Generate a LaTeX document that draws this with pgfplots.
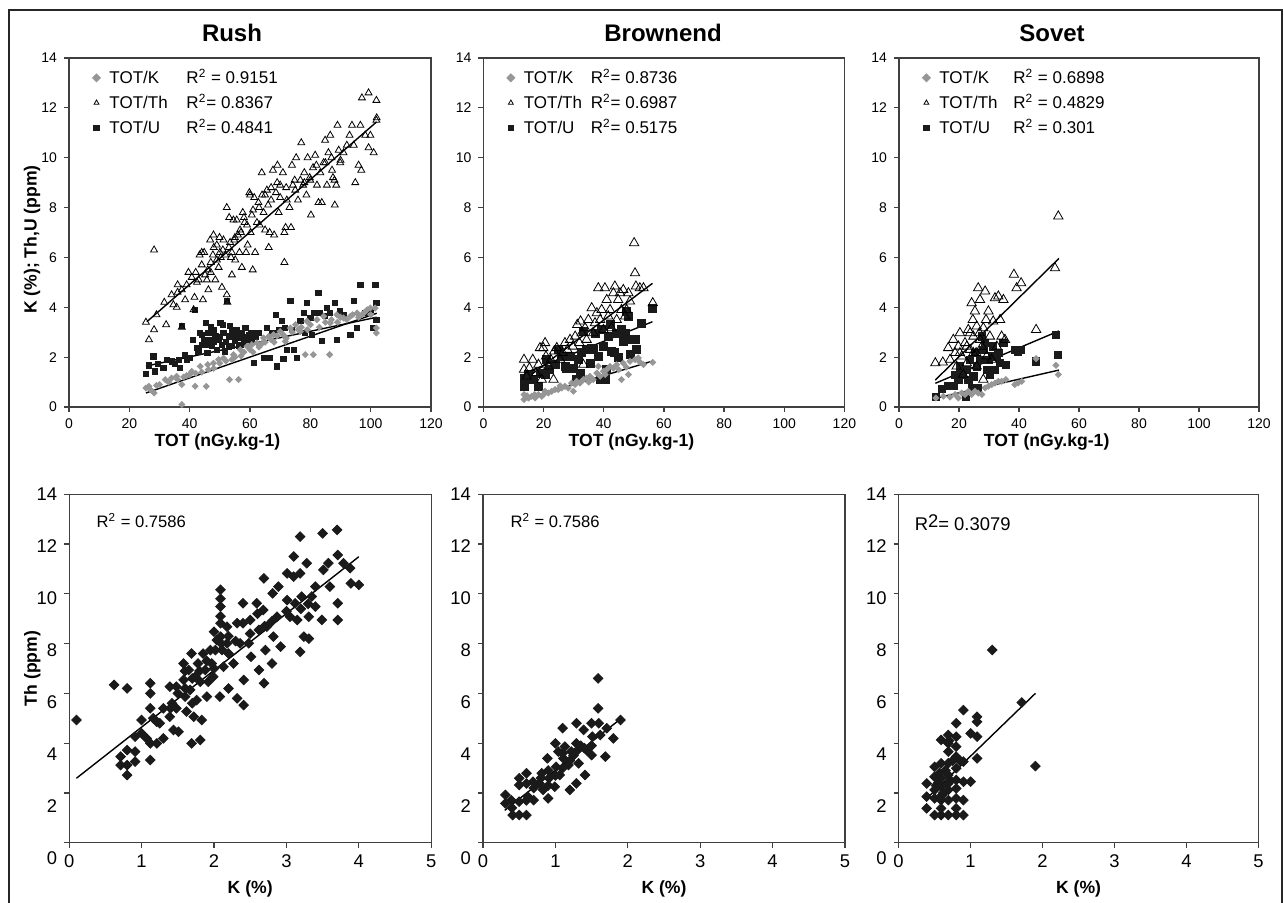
\documentclass[border=0pt]{standalone}
\usepackage{pgfplots}
\pgfplotsset{compat=1.18}
\usepackage{fontspec}
\setmainfont{Liberation Sans}
\definecolor{kgray}{RGB}{150,150,150}
\definecolor{pt}{RGB}{26,26,26}

\pgfplotsset{
  base/.style={
    scale only axis, anchor=south west,
    tick align=outside, xtick pos=bottom, ytick pos=left,
    axis line style={black!75, line width=0.6pt},
    major tick length=2.5pt, tick style={black!75, line width=0.6pt},
    /pgf/number format/assume math mode=true,
    ymin=0, ymax=14, ytick={0,2,...,14},
    label style={font=\fontsize{8.8}{10}\selectfont\bfseries},
  },
  toprow/.style={base, width=181pt, height=174.5pt,
    xmin=0, xmax=120, xtick={0,20,...,120},
    tick label style={font=\fontsize{7}{8}\selectfont},
    xlabel={TOT (nGy.kg-1)},
    xlabel style={at={(axis description cs:0.41,0)}, anchor=center, yshift=-17.5pt},
    legend style={draw=none, fill=none, font=\fontsize{8.5}{10}\selectfont,
      at={(0.064,0.98)}, anchor=north west, row sep=0pt, inner sep=0pt},
    legend cell align=left, reverse legend,
    legend image code/.code={\draw[##1, mark size=1.4pt] plot coordinates {(0.1cm,0cm)};},
  },
  botrow/.style={base, width=181pt, height=174.2pt,
    xmin=0, xmax=5, xtick={0,...,5},
    tick label style={font=\fontsize{9.2}{10}\selectfont},
    yticklabel={\pgfmathsetlengthmacro\myshift{-(14-\tick)*0.54pt-3.2pt}\raisebox{\myshift}[0pt][0pt]{\pgfmathprintnumber{\tick}}},
    xlabel={K (\%)},
    xlabel style={at={(axis description cs:0.5,0)}, anchor=center, yshift=-23pt},
  },
  kser/.style={only marks, color=kgray, mark=square*, mark size=1.05pt, mark options={rotate=45, fill=kgray, draw=kgray}},
  thser/.style={only marks, color=black, mark=triangle, mark size=2pt, mark options={line width=0.4pt}},
  user/.style={only marks, color=pt, mark=square*, mark size=1.3pt},
  bser/.style={only marks, color=pt, mark=square*, mark size=1.7pt, mark options={rotate=45}},
  trend/.style={black, line width=0.7pt, no marks, forget plot},
}
\newcommand{\legtxt}[3]{\hspace*{2.5pt}\makebox[#1][l]{#2}#3}

\begin{document}
\begin{tikzpicture}
\path[use as bounding box] (0,0) rectangle (642pt,451.5pt);
\draw[black!85, line width=0.75pt] (4.5pt,-2pt) -- (4.5pt,446.5pt) -- (641pt,446.5pt) -- (641pt,-2pt);

\node[font=\fontsize{12}{13}\selectfont\bfseries] at (116pt,435pt) {Rush};
\node[font=\fontsize{12}{13}\selectfont\bfseries] at (331.5pt,435pt) {Brownend};
\node[font=\fontsize{12}{13}\selectfont\bfseries] at (526pt,435pt) {Sovet};

% ---------------- Rush, top
\begin{axis}[toprow, at={(34.5pt,248pt)}, ylabel={K (\%); Th,U (ppm)},
  ylabel style={at={(axis description cs:-0.102,0.48)}, anchor=center}]
\addplot[user] coordinates {
(25.4,1.34)(26.5,1.67)(28,2.03)(28.5,1.43)(29.6,1.73)(31.3,1.56)(32.4,1.9)(34,1.83)(35.2,1.73)(36.3,1.9)
(36.8,1.56)(37.4,3.24)(38.5,2.1)(39,1.9)(40.2,1.97)(41.1,2.7)(41.8,3.9)(42.4,2.37)(42.9,2.23)(43.5,2.97)
(44,2.5)(44.8,2.7)(45.5,3.37)(45.9,2.17)(46.2,2.97)(46.8,2.7)(47.3,2.44)(47.9,3.1)(48.5,2.83)(49,2.3)
(49.6,2.7)(50.2,3.37)(50.7,2.5)(51.2,2.97)(51.8,2.23)(52.3,4.24)(52.9,2.83)(53.4,3.24)(54,2.44)(54.5,2.83)
(55.1,2.64)(55.6,3.1)(56.2,2.44)(56.8,2.77)(57.3,2.97)(57.9,2.57)(58.5,3.17)(59,2.7)(59.6,2.9)(60.2,2.97)
(60.7,2.64)(61.3,1.76)(61.8,2.83)(62.4,2.97)(62.9,2.97)(64.6,1.97)(65.7,3.17)(66.6,1.97)(67.4,2.97)(68.5,3.7)
(69,1.63)(69.6,3.1)(70.7,3.44)(71.1,1.93)(71.7,3.17)(72.2,2.3)(73.4,4.24)(73.9,3.1)(74.5,2.3)(75.5,1.97)
(76.7,3.44)(77.8,3.77)(78.3,2.97)(78.9,4.17)(80,3.57)(80.5,2.9)(81.1,3.77)(82.7,4.57)(83.3,3.77)(83.8,2.64)
(84.9,3.64)(85.5,3.97)(86.6,3.77)(88.2,4.17)(88.8,2.7)(89.9,3.84)(91,3.7)(93.3,2.9)(94.4,4.24)(95.5,3.17)
(96.6,4.9)(98.2,3.77)(99.9,3.9)(100.8,3.17)(101.6,4.9)(101.9,4.17)(101.9,3.5)
(44,2.9)(46,2.5)(48,2.6)(50,2.8)(52,2.6)(54,3.1)(56,2.9)(58,2.8)(47,3.2)(51,3.3)(53,2.4)(57,2.5)
};
\addlegendentry{\legtxt{38.5pt}{TOT/U}{R\textsuperscript{2}= 0.4841}}
\addplot[thser] coordinates {
(25.5,3.4)(26.5,2.7)(28.2,3.1)(28.2,6.3)(29,3.7)(31.6,4.2)(32.2,3.3)(34.6,4.1)(35.7,4.0)(36,4.9)
(37.4,4.7)(37.4,3.2)(38.5,4.3)(39.6,5.4)(40.7,5.2)(41.3,3.9)(41.6,4.4)(42.4,5.0)(43.3,6.1)(44,5.7)
(44.4,4.3)(44.8,6.2)(45.1,5.3)(45.7,5.1)(46.2,4.7)(46.8,6.7)(47,5.8)(47.7,6.1)(47.9,6.9)(48.5,5.1)
(49,6.5)(49.6,5.6)(49.9,6.8)(50.3,6.0)(50.7,4.8)(51.2,6.7)(51.8,6.1)(52.3,8.0)(52.3,4.5)(52.5,4.2)
(53.1,7.6)(53.4,6.6)(53.7,6.0)(54,5.3)(54.5,7.5)(54.8,6.7)(55.1,5.9)(55.6,7.5)(56.5,6.2)(56.7,7.1)
(57.3,5.6)(57.6,7.8)(58.2,7.4)(58.7,6.2)(59.2,6.5)(59.8,8.6)(60.2,7.0)(60.6,7.7)(60.9,5.5)(61.4,8.4)
(61.7,6.2)(62.3,7.4)(62.8,8.2)(63.2,7.3)(63.9,9.4)(64.5,7.8)(65,7.1)(65.6,8.7)(66.2,6.4)(66.5,7.0)
(67,8.3)(67.6,9.5)(68,6.9)(68.6,8.6)(69.1,9.7)(69.5,7.8)(70,8.9)(70.9,9.4)(71.4,7.0)(71.4,5.8)
(71.8,7.2)(72.2,8.3)(73.1,8.0)(73.6,7.2)(73.9,9.7)(74.2,8.9)(74.8,9.1)(75.3,10.0)(75.9,8.3)(76.7,9.1)
(77,10.6)(77.6,8.9)(78,9.4)(78.7,8.5)(79.1,10.0)(79.8,9.2)(80.2,7.7)(80.9,9.6)(81.6,10.1)(82.2,8.9)
(82.7,8.2)(83.3,9.4)(83.8,8.2)(84.4,9.8)(84.9,10.7)(85.5,8.9)(86,10.2)(86.6,10.9)(87.2,9.5)(87.5,9.2)
(88.1,8.1)(88.6,8.9)(89,11.3)(89.4,10.3)(89.9,9.8)(91,10.2)(92.1,10.5)(93,10.9)(93.8,11.3)(94.4,10.5)
(94.9,9.0)(96,9.7)(96.6,11.3)(96.9,9.5)(97.1,12.4)(98.2,10.9)(99.3,12.6)(99.3,10.4)(99.9,10.9)(101,10.2)
(101.9,12.3)(101.9,11.5)(102,11.6)
(42,5.4)(44,6.2)(47,5.4)(49,5.9)(51,6.3)(53,6.4)(55,6.8)(57,7.0)(59,7.3)(60,8.5)(63,8.0)(65,8.5)
(67,8.8)(69,9.0)(72,8.8)(75,8.7)(78,9.0)(80,9.1)(82,9.7)(85,9.8)(87,10.0)(88,9.1)(90,9.9)(70,8.4)
(66,8.1)(64,8.5)(61,7.9)(58,7.6)(56,6.9)(54,6.2)(50,6.2)(48,6.4)(46,5.5)(43,5.1)(39,4.9)(36,4.6)(34,4.5)
};
\addlegendentry{\legtxt{38.5pt}{TOT/Th}{R\textsuperscript{2}= 0.8367}}
\addplot[kser] coordinates {
(25.5,0.76)(26.5,0.83)(28.2,0.56)(29,0.87)(31.9,1.1)(34,1.16)(35.7,1.23)(37.4,0.9)(37.4,0.1)(39,1.26)
(40.7,1.43)(41.8,0.83)(43.5,1.63)(45.5,0.83)(46.2,1.5)(47.9,1.76)(49.6,1.9)(51.2,1.96)(53.2,1.1)(54.5,2.1)
(56.2,1.1)(56.8,2.3)(59,2.43)(60.6,2.5)(62.3,2.57)(64.5,2.77)(66.2,2.83)(67.8,2.9)(70,3.03)(71.7,2.63)
(73.4,3.17)(75.1,3.3)(76.7,3.03)(78.3,2.1)(78.9,3.44)(81,2.1)(82.2,3.5)(84.4,3.64)(86.4,2.1)(86.6,3.37)
(88.8,3.7)(91,3.57)(93.3,3.64)(95.5,3.77)(97.1,3.7)(98.8,3.9)(99.9,3.97)(101.9,3.17)(101.9,2.97)(101.5,3.97)
(44,1.4)(46,1.7)(48,1.55)(50,1.75)(52,1.85)(54,1.9)(55,2.0)(57,2.05)(58,2.2)(60,2.3)(61,2.2)(63,2.4)
(64,2.55)(65,2.6)(67,2.7)(68,2.6)(69,2.85)(71,2.9)(72,2.75)(74,3.0)(76,3.1)(77,3.2)(79,3.1)(80,3.3)
(83,3.2)(85,3.4)(87,3.5)(89,3.4)(90,3.6)(92,3.5)(94,3.7)(96,3.6)(98,3.8)(100,3.7)(33,1.0)(36,1.1)
(38,1.2)(40,1.3)(42,1.35)(30,0.9)(27,0.7)
};
\addlegendentry{\legtxt{38.5pt}{TOT/K}{R\textsuperscript{2} = 0.9151}}
\addplot[trend] coordinates {(25.8,3.42) (102,11.44)};
\addplot[trend] coordinates {(25.5,1.64) (102,3.6)};
\addplot[trend] coordinates {(25.5,0.56) (102,3.76)};
\end{axis}

% ---------------- Brownend, top
\begin{axis}[toprow, at={(241.7pt,248pt)}, width=180.5pt,
  thser/.append style={mark size=2.7pt}, user/.append style={mark size=2pt}]
\addplot[user] coordinates {
(13.5,0.83)(13.5,1.16)(15,1.3)(16.6,1.1)(18.3,0.83)(18.8,1.36)(20.5,1.3)(20.8,1.9)(22.1,1.5)(23.8,1.7)
(24.9,2.3)(26,2.03)(27.1,1.63)(27.7,1.56)(28.8,2.03)(29.9,1.56)(31,1.1)(31.6,1.9)(32.1,1.36)(32.7,2.17)
(33.2,3.04)(34.3,2.3)(35.4,1.76)(36,2.37)(36.5,2.3)(37.1,2.97)(38.2,2.03)(38.8,1.1)(39.3,3.1)(39.9,2.43)
(40.4,1.1)(41,1.5)(41.5,2.83)(42.1,3.3)(42.6,2.23)(43.7,2.17)(44.3,2.97)(44.8,1.97)(45.9,3.1)(46.5,2.63)
(47.1,2.97)(47.6,3.84)(48.2,3.64)(48.7,2.1)(49.3,2.7)(50.4,2.7)(50.9,2.3)(52.6,3.37)(56.3,3.97)
};
\addlegendentry{\legtxt{33.5pt}{TOT/U}{R\textsuperscript{2}= 0.5175}}
\addplot[thser] coordinates {
(13.5,1.9)(13.5,1.5)(14.4,1.23)(15.3,1.56)(16.4,1.9)(17.5,1.36)(18.3,1.7)(18.8,2.37)(19.4,1.1)(19.9,2.37)
(20.5,2.57)(20.8,2.03)(21.6,1.63)(22.4,1.9)(23.3,1.1)(23.5,2.23)(24.4,2.37)(25.5,1.9)(26.4,2.17)(27.1,2.57)
(27.9,2.3)(28.8,2.7)(29.7,2.43)(30.5,2.83)(31.2,3.3)(31.9,2.57)(32.3,3.44)(32.7,2.97)(33.2,1.7)(33.8,3.17)
(34.3,2.7)(34.9,3.5)(36,3.97)(36.5,2.97)(37.1,3.37)(37.7,3.77)(38.2,4.77)(38.8,3.5)(39.3,3.9)(39.9,3.1)
(40.4,4.77)(41,4.3)(41.5,3.64)(42.1,3.9)(42.6,3.17)(43.2,4.57)(43.7,4.84)(44.3,3.5)(44.8,4.3)(45.4,4.57)
(45.9,3.9)(46.5,4.7)(47.1,3.64)(47.6,3.9)(48.2,4.57)(48.7,4.24)(50.1,6.58)(50.4,5.37)(50.7,4.84)(52,4.77)
(53.2,4.77)(56.3,4.17)
};
\addlegendentry{\legtxt{33.5pt}{TOT/Th}{R\textsuperscript{2}= 0.6987}}
\addplot[kser] coordinates {
(13.5,0.3)(13.5,0.5)(15,0.36)(16,0.43)(17.2,0.36)(18.3,0.5)(19.4,0.43)(20.5,0.63)(21.6,0.56)(22.7,0.63)
(23.8,0.7)(24.9,0.7)(26,0.76)(27.1,0.83)(28.2,0.76)(29.3,0.96)(29.9,0.63)(31,1.03)(32.1,0.96)(33.2,1.1)
(34.3,1.16)(35.4,1.23)(36.5,1.1)(37.7,1.36)(38.2,1.63)(38.8,1.23)(39.9,1.43)(41,1.5)(42.1,1.63)(43.2,1.56)
(44.3,1.7)(45.9,1.1)(46.5,1.76)(48.2,1.3)(48.7,1.83)(50.4,1.9)(51.5,1.97)(53.2,1.7)(56.3,1.79)
(14.5,0.45)(17,0.5)(20,0.5)(25.5,0.85)(30.5,0.9)(35,1.0)(40.5,1.3)(45,1.5)(47.5,1.6)(52,1.8)
};
\addlegendentry{\legtxt{33.5pt}{TOT/K}{R\textsuperscript{2}= 0.8736}}
\addplot[trend] coordinates {(13.5,1.08) (56.2,4.96)};
\addplot[trend] coordinates {(13.5,1.35) (56.2,3.42)};
\addplot[trend] coordinates {(13.5,0.31) (56.2,1.84)};
\end{axis}

% ---------------- Sovet, top
\begin{axis}[toprow, at={(449.5pt,248pt)}, width=180pt,
  thser/.append style={mark size=2.7pt}, user/.append style={mark size=1.8pt}]
\addplot[user] coordinates {
(12.3,0.4)(14.2,0.74)(16.4,0.83)(18.1,0.83)(18.7,1.3)(19.8,1.1)(20.3,1.63)(21.4,1.3)(22.3,0.4)(22.6,1.5)
(23.1,1.1)(23.7,1.9)(24.2,0.76)(24.8,1.23)(25.3,2.17)(25.9,1.63)(26.4,0.76)(27,1.9)(27.6,2.83)(28.1,2.3)
(28.7,2.57)(29.2,1.5)(29.8,1.9)(30.3,1.3)(30.9,2.03)(31.4,2.43)(32,1.5)(32.6,2.03)(33.1,2.17)(33.7,1.76)
(34.8,2.57)(35.6,1.7)(38.6,2.3)(39.7,2.23)(40.7,2.3)(45.7,1.83)(52.3,2.9)(52.9,2.1)
};
\addlegendentry{\legtxt{37pt}{TOT/U}{R\textsuperscript{2} = 0.301}}
\addplot[thser] coordinates {
(12.1,1.76)(14.6,1.79)(16.4,2.37)(17,1.9)(18.1,2.7)(18.7,2.17)(19.2,1.63)(19.8,2.43)(20.3,2.97)(20.9,2.03)
(21.4,1.3)(22,2.57)(22.6,1.76)(23.1,3.1)(23.7,2.3)(24.2,4.17)(24.6,3.5)(24.8,2.83)(25.3,3.84)(25.7,2.17)
(25.9,1.63)(26.4,4.77)(26.8,2.97)(27,4.3)(27.6,2.43)(28.1,1.1)(28.7,4.64)(29,3.5)(29.2,2.03)(29.8,3.84)
(30.3,2.83)(30.9,1.9)(31.4,3.44)(32,4.37)(32.6,2.43)(33.1,4.44)(33.7,3.5)(34.2,2.83)(34.8,4.3)(35.3,2.7)
(38.3,5.31)(39.2,4.77)(40.7,4.97)(45.7,3.1)(52,5.57)(53.1,7.65)
(20.3,2.17)(22.6,2.43)(24.8,2.17)(27,2.7)(25.9,3.24)(28.1,3.17)(23.7,2.97)
};
\addlegendentry{\legtxt{37pt}{TOT/Th}{R\textsuperscript{2} = 0.4829}}
\addplot[kser] coordinates {
(12.3,0.36)(14.8,0.43)(17,0.4)(18.7,0.5)(19.8,0.36)(20.9,0.56)(22,0.5)(23.1,0.63)(24.2,0.5)(25.3,0.63)
(26.4,0.56)(27.6,0.5)(28.7,0.76)(29.8,0.83)(30.9,0.9)(32,0.96)(33.1,1.03)(34.2,1.03)(35.6,1.1)(38.6,0.9)
(39.7,0.96)(40.9,1.03)(45.7,1.94)(52.3,1.67)(53.1,1.3)
};
\addlegendentry{\legtxt{37pt}{TOT/K}{R\textsuperscript{2} = 0.6898}}
\addplot[trend] coordinates {(12.1,1.08) (53.3,5.96)};
\addplot[trend] coordinates {(12.1,0.95) (53.3,3.05)};
\addplot[trend] coordinates {(12.1,0.35) (53.3,1.48)};
\end{axis}

% ---------------- Rush, bottom
\begin{axis}[botrow, at={(34.6pt,30.15pt)}, ylabel={Th (ppm)},
  ylabel style={at={(axis description cs:-0.102,0.5)}, anchor=center}]
\addplot[bser] coordinates {
(0.1,4.93)(0.62,6.34)(0.8,6.2)(0.71,3.46)(0.71,3.12)(0.8,3.72)(0.8,3.12)(0.8,2.72)(0.91,3.66)(0.91,3.26)
(1.0,4.93)(0.91,4.26)(1.0,4.39)(1.07,4.19)(1.12,6.41)(1.12,6.0)(1.12,5.4)(1.12,3.32)(1.12,3.99)(1.16,5.0)
(1.21,4.86)(1.21,3.99)(1.25,4.8)(1.3,4.19)(1.3,5.4)(1.39,6.27)(1.39,5.06)(1.42,5.6)(1.44,4.53)(1.48,6.27)
(1.48,5.4)(1.51,4.46)(1.58,7.2)(1.58,6.54)(1.6,5.87)(1.62,5.27)(1.65,6.94)(1.67,6.14)(1.69,7.6)(1.69,3.99)
(1.72,5.06)(1.74,6.67)(1.76,5.73)(1.78,7.2)(1.81,6.47)(1.81,4.13)(1.83,4.93)(1.85,7.6)(1.88,6.94)(1.9,5.87)
(1.92,6.47)(1.95,7.74)(1.97,7.2)(1.99,6.67)(2.0,8.48)(2.02,7.74)(2.04,8.14)(2.08,5.87)(2.09,10.16)(2.09,9.49)
(2.09,8.82)(2.09,8.28)(2.11,7.74)(2.13,7.07)(2.18,8.68)(2.18,8.01)(2.2,7.6)(2.2,6.2)(2.27,7.2)(2.32,8.82)
(2.32,5.8)(2.36,8.01)(2.4,9.62)(2.4,8.82)(2.41,6.54)(2.41,5.53)(2.48,8.01)(2.5,8.95)(2.51,7.47)(2.59,9.62)
(2.62,8.55)(2.62,6.94)(2.68,9.35)(2.69,10.62)(2.69,6.41)(2.71,7.74)(2.73,8.68)(2.8,7.2)(2.81,10.02)(2.82,8.28)
(2.87,9.08)(2.89,10.29)(2.92,7.88)(3.01,9.75)(3.01,10.82)(3.05,9.08)(3.1,11.5)(3.1,10.69)(3.12,9.62)(3.15,8.95)
(3.19,10.82)(3.19,12.3)(3.19,7.67)(3.21,9.89)(3.24,8.28)(3.28,11.23)(3.31,9.08)(3.31,8.2)(3.35,9.89)(3.4,9.49)
(3.4,10.29)(3.49,8.95)(3.5,12.43)(3.51,10.96)(3.58,11.23)(3.6,10.29)(3.7,12.57)(3.71,11.56)(3.71,9.62)(3.71,8.95)
(3.79,11.23)(3.88,11.03)(3.89,10.42)(4.0,10.36)
(1.6,6.2)(1.7,6.6)(1.8,6.9)(1.9,7.3)(2.0,7.0)(2.1,8.0)(2.2,8.3)(2.5,8.4)(2.6,9.2)(2.8,8.9)(3.0,9.3)
(3.2,9.4)(3.3,9.6)(2.7,8.7)(1.5,6.0)(1.4,5.4)(2.3,8.1)(2.09,9.8)(2.09,9.1)(1.7,5.6)(1.6,6.9)
};
\addplot[trend] coordinates {(0.1,2.59) (4.0,11.49)};
\node[anchor=west, inner sep=0pt, font=\fontsize{8.3}{10}\selectfont] at (rel axis cs:0.075,0.924) {R\textsuperscript{2} = 0.7586};
\end{axis}

% ---------------- Brownend, bottom
\begin{axis}[botrow, at={(241.5pt,30.15pt)}]
\addplot[bser] coordinates {
(0.31,1.92)(0.31,1.58)(0.39,1.71)(0.41,1.11)(0.5,2.59)(0.5,2.32)(0.5,1.65)(0.5,1.11)(0.6,2.79)(0.6,2.38)
(0.6,1.11)(0.62,1.85)(0.69,2.45)(0.7,1.71)(0.78,2.38)(0.81,2.79)(0.83,2.12)(0.89,3.39)(0.9,1.78)(0.91,2.59)
(0.99,2.25)(1.0,3.99)(1.01,3.05)(1.04,3.66)(1.06,2.72)(1.1,4.6)(1.11,3.39)(1.13,3.86)(1.18,3.12)(1.2,2.12)
(1.22,3.66)(1.29,4.8)(1.29,3.99)(1.29,2.38)(1.32,3.19)(1.39,4.53)(1.41,2.72)(1.43,3.72)(1.5,3.52)(1.5,4.8)
(1.51,4.26)(1.59,6.6)(1.59,5.4)(1.6,4.8)(1.62,4.33)(1.69,3.46)(1.71,4.6)(1.8,4.19)(1.9,4.93)
(0.7,2.2)(0.8,2.6)(0.9,2.9)(1.0,2.7)(1.1,3.0)(1.2,3.3)(1.3,3.7)(1.4,3.8)(1.5,3.9)(0.4,1.4)(0.6,1.7)
(0.9,2.3)(1.1,3.6)(1.25,3.5)(1.35,3.9)
};
\addplot[trend] coordinates {(0.3,1.3) (1.92,5.02)};
\node[anchor=west, inner sep=0pt, font=\fontsize{8.3}{10}\selectfont] at (rel axis cs:0.075,0.924) {R\textsuperscript{2} = 0.7586};
\end{axis}

% ---------------- Sovet, bottom
\begin{axis}[botrow, at={(449.3pt,30.15pt)}, width=180pt]
\addplot[bser] coordinates {
(0.39,2.38)(0.39,1.85)(0.39,1.38)(0.5,3.05)(0.5,2.65)(0.5,2.12)(0.5,1.78)(0.5,1.11)(0.59,4.13)(0.59,3.19)
(0.59,2.59)(0.59,2.25)(0.59,1.71)(0.59,1.38)(0.59,1.11)(0.69,4.33)(0.69,3.99)(0.69,3.66)(0.69,3.19)(0.69,2.72)
(0.69,2.38)(0.69,2.12)(0.69,1.71)(0.69,1.11)(0.8,4.8)(0.8,4.26)(0.8,3.86)(0.8,3.46)(0.8,2.99)(0.8,2.52)
(0.8,2.18)(0.8,1.78)(0.8,1.38)(0.8,1.11)(0.9,5.33)(0.9,3.26)(0.9,2.45)(0.9,1.71)(0.9,1.11)(1.0,4.39)
(1.0,2.45)(1.09,5.06)(1.09,4.86)(1.09,4.26)(1.09,3.39)(1.3,7.74)(1.71,5.63)(1.9,3.08)
(0.55,2.4)(0.62,2.0)(0.65,2.9)(0.72,2.5)(0.75,3.3)(0.6,1.9)(0.52,2.3)(0.57,2.8)(0.85,3.3)(0.7,4.1)
};
\addplot[trend] coordinates {(0.4,1.8) (1.9,6.0)};
\node[anchor=west, inner sep=0pt, font=\fontsize{9.2}{10}\selectfont] at (rel axis cs:0.044,0.918) {R\raisebox{0.35ex}{2}= 0.3079};
\end{axis}
\end{tikzpicture}
\end{document}
